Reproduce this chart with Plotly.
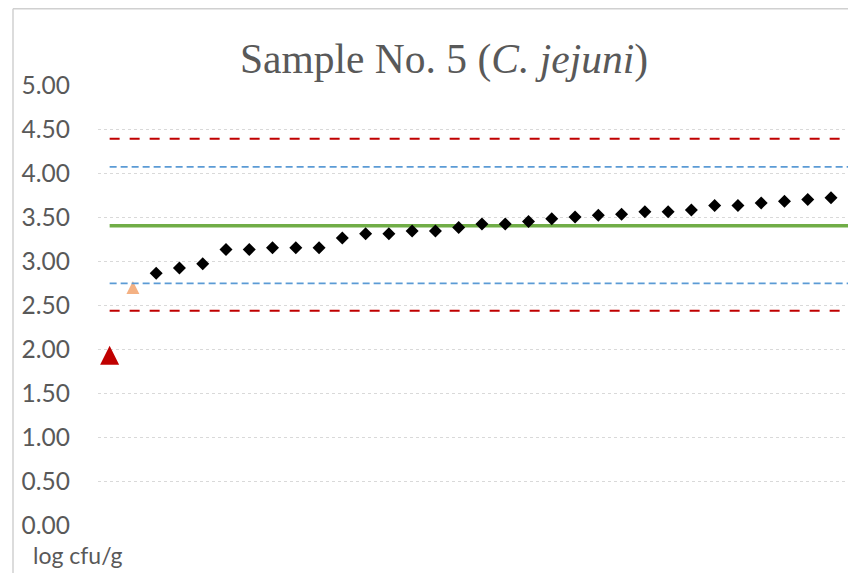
import plotly.graph_objects as go

# ---- data ----
title_text = "Sample No. 5 (<i>C. jejuni</i>)"
unit_label = "log cfu/g"

outlier_low_x = [0]
outlier_low_y = [1.93]
outlier_mid_x = [1]
outlier_mid_y = [2.70]

sample_x = list(range(2, 33))
sample_y = [2.86, 2.92, 2.97, 3.13, 3.13, 3.15, 3.15, 3.15, 3.26, 3.31,
            3.31, 3.34, 3.34, 3.38, 3.42, 3.42, 3.45, 3.48, 3.50, 3.52,
            3.53, 3.56, 3.56, 3.58, 3.63, 3.63, 3.66, 3.68, 3.70, 3.72,
            3.90]

line_x = list(range(0, 34))
mean_value = 3.40
inner_upper = 4.07
inner_lower = 2.745
outer_upper = 4.39
outer_lower = 2.435

y_ticks = [0, 0.5, 1, 1.5, 2, 2.5, 3, 3.5, 4, 4.5, 5]

# ---- layout geometry ----
W, H = 848, 573
ML, MR, MT, MB = 98, 0, 85.3, 47.7
PW = W - ML - MR
PH = H - MT - MB


def px_to_paper_x(px):
    return (px - ML) / PW


def px_to_paper_y(py):
    return (H - MB - py) / PH


fig = go.Figure()

fig.add_trace(go.Scatter(
    x=outlier_low_x, y=outlier_low_y, mode="markers",
    marker=dict(symbol="arrow-down", angle=180, standoff=9.5, size=19,
                color="#c00000", line=dict(width=0)),
    cliponaxis=False, showlegend=False, hoverinfo="skip"))

fig.add_trace(go.Scatter(
    x=outlier_mid_x, y=outlier_mid_y, mode="markers",
    marker=dict(symbol="arrow-down", angle=180, standoff=6.5, size=13,
                color="#f4b183", line=dict(width=0)),
    cliponaxis=False, showlegend=False, hoverinfo="skip"))

for val in (outer_upper, outer_lower):
    fig.add_trace(go.Scatter(
        x=line_x, y=[val] * len(line_x), mode="lines",
        line=dict(color="#c00000", width=2, dash="10px,10px"),
        showlegend=False, hoverinfo="skip"))

for val in (inner_upper, inner_lower):
    fig.add_trace(go.Scatter(
        x=line_x, y=[val] * len(line_x), mode="lines",
        line=dict(color="#5b9bd5", width=1.75, dash="7px,4px"),
        showlegend=False, hoverinfo="skip"))

fig.add_trace(go.Scatter(
    x=line_x, y=[mean_value] * len(line_x), mode="lines",
    line=dict(color="#70ad47", width=3.5),
    showlegend=False, hoverinfo="skip"))

fig.add_trace(go.Scatter(
    x=sample_x, y=sample_y, mode="markers",
    marker=dict(symbol="diamond", size=10, color="#000000", line=dict(width=0)),
    cliponaxis=False, showlegend=False, hoverinfo="skip"))

spacing = 23.27
x_right = (W - ML) / spacing - 0.5

fig.update_layout(
    width=W, height=H,
    margin=dict(l=ML, r=MR, t=MT, b=MB, pad=0),
    paper_bgcolor="white", plot_bgcolor="white",
    xaxis=dict(range=[-0.5, x_right], showgrid=False, zeroline=False,
               showline=False, showticklabels=False, ticks=""),
    yaxis=dict(range=[0, 5], tickvals=y_ticks, tickformat=".2f",
               showgrid=True, gridcolor="#d9d9d9", gridwidth=1, griddash="dot",
               zeroline=False, showline=False, ticks="",
               ticklabelstandoff=27,
               tickfont=dict(family="Lato", size=24.5, color="#595959")),
    annotations=[
        dict(text=title_text, xref="paper", yref="paper",
             x=px_to_paper_x(443.5), y=px_to_paper_y(60),
             xanchor="center", yanchor="middle", showarrow=False,
             font=dict(family="Liberation Serif", size=41.5, color="#595959")),
        dict(text=unit_label, xref="paper", yref="paper",
             x=px_to_paper_x(31), y=px_to_paper_y(555),
             xanchor="left", yanchor="middle", showarrow=False,
             font=dict(family="Lato", size=23, color="#595959")),
    ],
    shapes=[
        dict(type="line", xref="paper", yref="paper",
             x0=px_to_paper_x(13), x1=px_to_paper_x(13),
             y0=px_to_paper_y(9), y1=px_to_paper_y(600),
             line=dict(color="#d0d0d0", width=1.5)),
        dict(type="line", xref="paper", yref="paper",
             x0=px_to_paper_x(13), x1=px_to_paper_x(900),
             y0=px_to_paper_y(9), y1=px_to_paper_y(9),
             line=dict(color="#d0d0d0", width=1.5)),
    ],
)

fig.write_html(
    "out.html",
    config={"displayModeBar": False},
    post_script="document.body.style.margin='0';document.body.style.overflow='hidden';",
)
